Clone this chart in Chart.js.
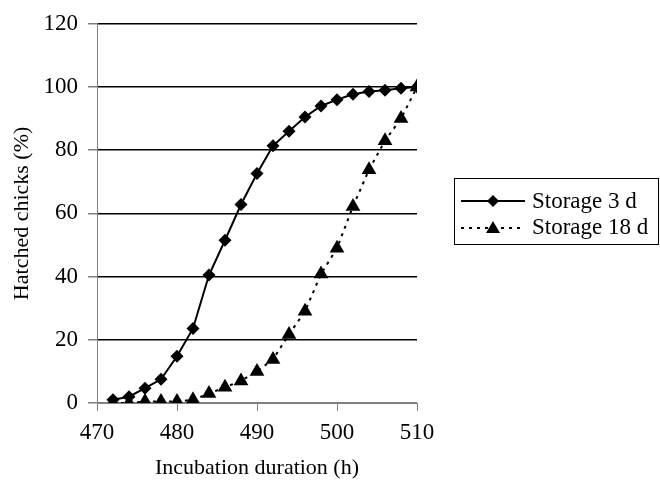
<!DOCTYPE html>
<html>
<head>
<meta charset="utf-8">
<script src="https://cdn.jsdelivr.net/npm/chart.js@4"></script>
<style>
  body { margin: 0; background: #fff; }
  #wrap { position: relative; width: 660px; height: 485px; }
  #legende {
    position: absolute; left: 454px; top: 178px; width: 203px; height: 65px;
    border: 1px solid #000; font-family: "Liberation Serif", serif; font-size: 23px; color: #000;
  }
  #legende .ligne { position: absolute; left: 6px; height: 26px; display: flex; align-items: center; }
  #legende svg { margin-right: 7px; }
</style>
</head>
<body>
<div id="wrap">
  <canvas id="graphique-eclosion"></canvas>
  <div id="legende"></div>
</div>
<script>
const heures = [472, 474, 476, 478, 480, 482, 484, 486, 488, 490, 492, 494, 496, 498, 500, 502, 504, 506, 508, 510];
const stockage3 = [1, 2, 4.7, 7.5, 14.8, 23.6, 40.5, 51.5, 62.8, 72.6, 81.4, 86, 90.5, 94, 96, 97.7, 98.6, 99, 99.6, 100];
const stockage18 = [0, 0, 0.5, 0.5, 0.5, 1, 3, 5, 7, 10, 13.8, 21.7, 29, 40.8, 49, 62.2, 73.8, 83, 90, 100];
const nomsSeries = ["Storage 3 d", "Storage 18 d"];
const xTicks = [470, 480, 490, 500, 510];
const yTicks = [0, 20, 40, 60, 80, 100, 120];

const policeTicks = { family: "'Liberation Serif', 'Times New Roman', serif", size: 23 };
const policeTitre = { family: "'Liberation Serif', 'Times New Roman', serif", size: 22 };

const data = {
    datasets: [{
        label: nomsSeries[0],
        data: heures.map((h, i) => ({ x: h, y: stockage3[i] })),
        borderColor: "#000",
        backgroundColor: "#000",
        borderWidth: 2,
        pointStyle: "rectRot",
        pointRadius: 6.5,
        pointBorderWidth: 0,
        tension: 0,
    }, {
        label: nomsSeries[1],
        data: heures.map((h, i) => ({ x: h, y: stockage18[i] })),
        borderColor: "#000",
        backgroundColor: "#000",
        borderWidth: 2,
        borderDash: [3, 5],
        pointStyle: "triangle",
        pointRadius: 8.5,
        pointBorderWidth: 0,
        tension: 0,
    }]
}

const config = {
    type: "line",
    data: data,
    options: {
        responsive: false,
        animation: false,
        layout: { padding: { top: 21, right: 243, left: 0, bottom: 0 } },
        plugins: { legend: { display: false }, tooltip: { enabled: false } },
        scales: {
            x: {
                type: "linear",
                min: 470,
                max: 510,
                afterBuildTicks: (scale) => { scale.ticks = xTicks.map(v => ({ value: v })); },
                afterFit: (scale) => { scale.height = 82; },
                border: { color: "#808080", width: 1 },
                grid: { drawOnChartArea: false, color: "#808080", tickLength: 8 },
                ticks: { color: "#000", font: policeTicks, padding: 8, maxRotation: 0 },
                title: { display: true, text: "Incubation duration (h)", color: "#000", font: policeTitre, padding: { top: 4, bottom: 4 } },
            },
            y: {
                min: 0,
                max: 120,
                afterBuildTicks: (scale) => { scale.ticks = yTicks.map(v => ({ value: v })); },
                afterFit: (scale) => { scale.width = 97; },
                border: { color: "#808080", width: 1 },
                grid: {
                    color: (ctx) => ctx.tick && ctx.tick.value === 0 ? "#808080" : "#000",
                    tickColor: "#808080",
                    lineWidth: 1.5,
                    tickLength: 9,
                },
                ticks: { color: "#000", font: policeTicks, padding: 10 },
                title: { display: true, text: "Hatched chicks (%)", color: "#000", font: policeTitre, padding: { top: 9, bottom: 0 } },
            }
        }
    }
}

const canvas = document.querySelector("#graphique-eclosion");
canvas.width = 660;
canvas.height = 485;
const graph = new Chart(canvas, config);

// legende encadree, comme dans l'original
const legende = document.querySelector("#legende");
const echantillons = [
    `<svg width="64" height="16"><line x1="0" y1="8" x2="64" y2="8" stroke="#000" stroke-width="2"/><polygon points="32,2 38,8 32,14 26,8" fill="#000"/></svg>`,
    `<svg width="64" height="16"><line x1="0" y1="9" x2="64" y2="9" stroke="#000" stroke-width="2" stroke-dasharray="3,5"/><polygon points="32,2 39,14 25,14" fill="#000"/></svg>`
];
for (let i = 0; i < nomsSeries.length; i++) {
    const ligne = document.createElement("div");
    ligne.className = "ligne";
    ligne.style.top = (9 + i * 26) + "px";
    ligne.innerHTML = echantillons[i] + `<span>${nomsSeries[i]}</span>`;
    legende.appendChild(ligne);
}
</script>
</body>
</html>
